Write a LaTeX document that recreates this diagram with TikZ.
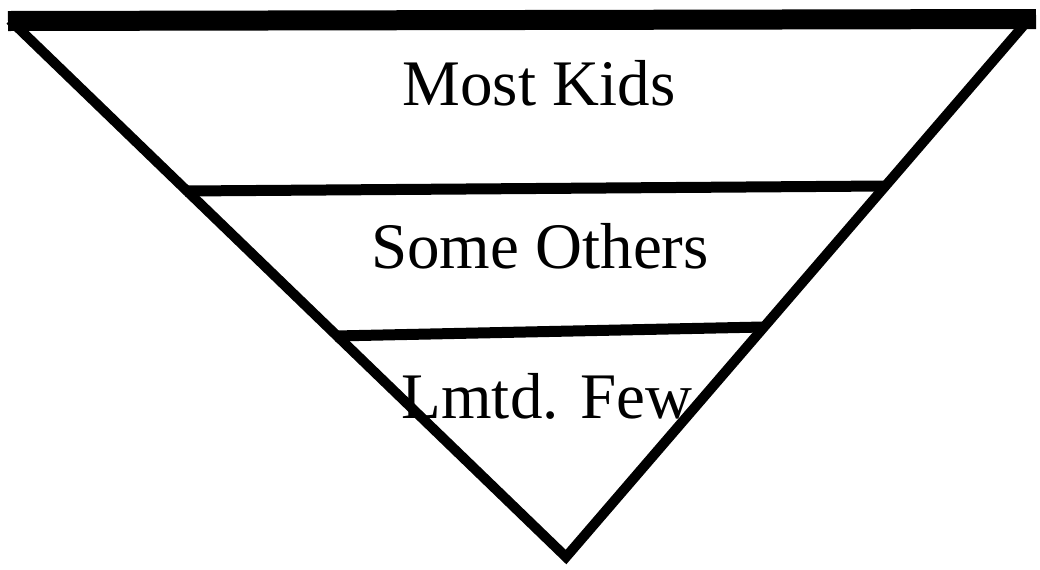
\documentclass[tikz,border=0pt]{standalone}
\usepackage{fontspec}
\setmainfont{Liberation Serif}
\usetikzlibrary{arrows,arrows.meta}
\tikzset{
  % style for the labels in the bands
  band label/.style={anchor=base,inner sep=0pt,font=\fontsize{32.5}{36}\selectfont},
  % style for the edges of the funnel
  edge/.style={line width=5pt,line join=miter,miter limit=10},
}

\begin{document}
\begin{tikzpicture}[x=.5pt,y=-.5pt]
\useasboundingbox (0,0) rectangle (1040,569);
\coordinate (topleft) at (10,20);
\coordinate (topright) at (1030,18);
\coordinate (apex) at (566,557);

\draw[edge] (topleft) -- (apex) -- (topright);
\draw[line width=10pt] (8,21) -- (1036,19);

% dividers between the bands
\draw[line width=5.5pt] (185,191) -- (885,186);
\draw[line width=5.5pt] (335,336) -- (763,327);

\node[band label] (most) at (539,105) {Most Kids};
\node[band label] (some) at (540,268) {Some Others};
\node[band label] (few) at (547,418) {Lmtd. Few};

\end{tikzpicture}
\end{document}
